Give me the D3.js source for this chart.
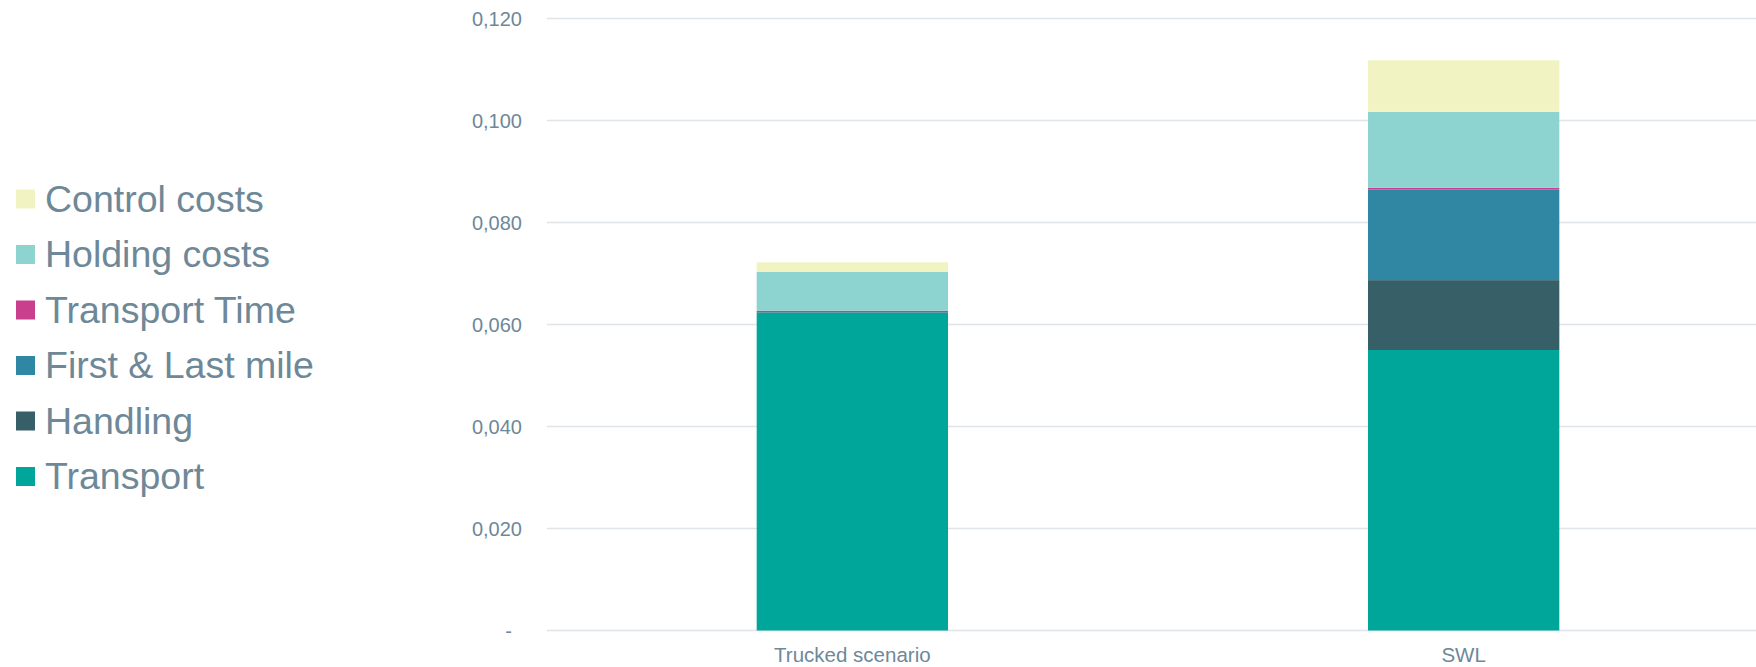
<!DOCTYPE html>
<html>
<head>
<meta charset="utf-8">
<script src="https://cdn.jsdelivr.net/npm/d3@7"></script>
<style>
  body { margin: 0; background: #fff; }
  svg { display: block; font-family: "Liberation Sans", Arial, sans-serif; }
</style>
</head>
<body>
<svg id="chart" width="1756" height="667"></svg>
<script>
// scenarios on the x axis
var scenarios = ["Trucked scenario", "SWL"]

// cost components, bottom of the stack first
var series = ["Transport", "Handling", "First & Last mile", "Transport Time", "Holding costs", "Control costs"]
var colors = ["#00a699", "#375f67", "#2f87a3", "#c93f8e", "#8dd3cf", "#f1f3c2"]

// values per scenario (Trucked, SWL)
var transport = [0.0624, 0.0550]
var handling = [0.0000, 0.0137]
var firstLast = [0.0000, 0.0178]
var transportTime = [0.0003, 0.0003]
var holding = [0.0076, 0.0149]
var control = [0.0019, 0.0101]

var yTicks = [0, 0.02, 0.04, 0.06, 0.08, 0.10, 0.12]

var rows = scenarios.map(function(s, i) {
    return {
        scenario: s,
        "Transport": transport[i],
        "Handling": handling[i],
        "First & Last mile": firstLast[i],
        "Transport Time": transportTime[i],
        "Holding costs": holding[i],
        "Control costs": control[i]
    }
})

var svg = d3.select("#chart")
var textColor = "#6e8898"

var x = d3.scaleBand()
    .domain(scenarios)
    .range([547, 1769])
    .paddingInner(0.687)
    .paddingOuter(0.343)

var y = d3.scaleLinear()
    .domain([0, 0.12])
    .range([630.5, 18.5])

// grid lines
svg.append("g")
    .selectAll("line")
    .data(yTicks)
    .join("line")
    .attr("x1", 547)
    .attr("x2", 1756)
    .attr("y1", function(d) { return y(d) })
    .attr("y2", function(d) { return y(d) })
    .attr("stroke", "#dfe4e9")
    .attr("stroke-width", 1.5)

// y axis labels
var yAxis = d3.axisLeft(y)
    .tickValues(yTicks)
    .tickSize(0)
    .tickPadding(0)
    .tickFormat(function(d) {
        return d === 0 ? "-" : d3.format(".3f")(d).replace(".", ",")
    })

svg.append("g")
    .attr("transform", "translate(522,0)")
    .call(yAxis)
    .call(function(g) { g.select(".domain").remove() })
    .selectAll("text")
    .attr("fill", textColor)
    .attr("font-size", 20)
    .attr("font-family", "Liberation Sans, Arial, sans-serif")
    .attr("dy", "0.35em")
    .attr("dx", function(d) { return d === 0 ? -10 : 0 })  // zero dash sits a bit left

// stacked bars
var stack = d3.stack().keys(series)
var layers = stack(rows)

svg.append("g")
    .selectAll("g")
    .data(layers)
    .join("g")
    .attr("fill", function(d, i) { return colors[i] })
    .selectAll("rect")
    .data(function(d) { return d })
    .join("rect")
    .attr("x", function(d) { return x(d.data.scenario) })
    .attr("width", x.bandwidth())
    .attr("y", function(d) { return y(d[1]) })
    .attr("height", function(d) { return y(d[0]) - y(d[1]) })

// x axis labels
var xAxis = d3.axisBottom(x).tickSize(0).tickPadding(0)
svg.append("g")
    .attr("transform", "translate(0,647)")
    .call(xAxis)
    .call(function(g) { g.select(".domain").remove() })
    .selectAll("text")
    .attr("fill", textColor)
    .attr("font-size", 20.5)
    .attr("font-family", "Liberation Sans, Arial, sans-serif")

// legend, top entry is the top of the stack
var legendItems = series.slice().reverse()
var legendColors = colors.slice().reverse()

var legend = svg.append("g")
    .selectAll("g")
    .data(legendItems)
    .join("g")
    .attr("transform", function(d, i) { return "translate(16," + (189.5 + i * 55.5) + ")" })

legend.append("rect")
    .attr("width", 19)
    .attr("height", 19)
    .attr("fill", function(d, i) { return legendColors[i] })

legend.append("text")
    .attr("x", 29)
    .attr("y", 22)
    .attr("fill", textColor)
    .attr("font-size", 37.5)
    .text(function(d) { return d })
</script>
</body>
</html>
